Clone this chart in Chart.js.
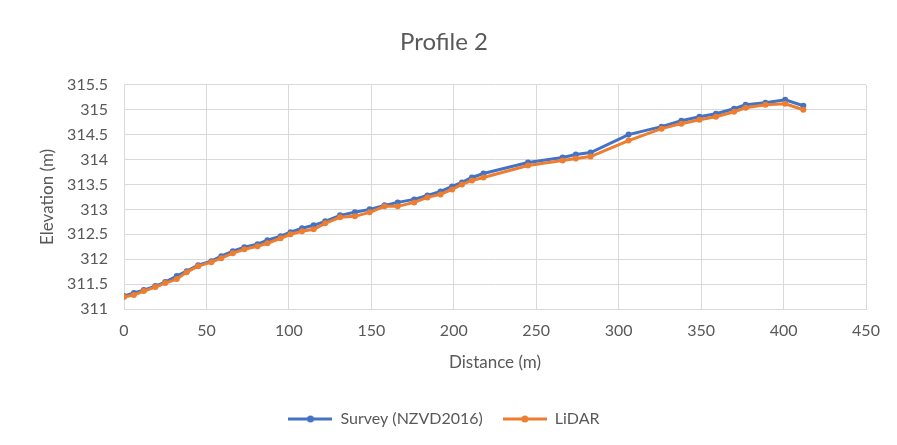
<!DOCTYPE html>
<html lang="en">
<head>
  <meta charset="UTF-8">
  <title>Profile 2</title>
  <script src="https://cdn.jsdelivr.net/npm/chart.js@4.4.0/dist/chart.umd.min.js"></script>
  <style>
    body { margin: 0; background: #fff; }
    .chart-container { position: relative; width: 897px; height: 445px; }
  </style>
</head>
<body>
  <div class="chart-container">
    <canvas id="chart"></canvas>
  </div>

<script>
  // distance along the profile (m)
  const distance = [0, 6, 12, 19, 25, 32, 38, 45, 53, 59, 66, 73, 81, 87, 95, 101, 108, 115, 122, 131,
    140, 149, 158, 166, 176, 184, 192, 199, 205, 211, 218, 245, 266, 274, 283, 306, 326, 338, 349, 359,
    370, 377, 389, 401, 412];
  // elevations (m)
  const survey = [311.26, 311.32, 311.38, 311.46, 311.54, 311.66, 311.76, 311.88, 311.96, 312.06,
    312.16, 312.24, 312.30, 312.38, 312.46, 312.54, 312.62, 312.68, 312.76, 312.88,
    312.94, 313.00, 313.08, 313.14, 313.20, 313.28, 313.36, 313.46, 313.54, 313.64,
    313.72, 313.94, 314.04, 314.10, 314.14, 314.50, 314.66, 314.78, 314.86, 314.92,
    315.02, 315.10, 315.14, 315.20, 315.08];
  const lidar = [311.24, 311.28, 311.36, 311.44, 311.52, 311.60, 311.74, 311.86, 311.94, 312.02,
    312.12, 312.20, 312.26, 312.32, 312.42, 312.50, 312.56, 312.60, 312.72, 312.84,
    312.86, 312.94, 313.06, 313.06, 313.14, 313.24, 313.30, 313.40, 313.50, 313.58,
    313.64, 313.88, 313.98, 314.02, 314.06, 314.38, 314.62, 314.72, 314.80, 314.86,
    314.96, 315.04, 315.10, 315.12, 315.00];

  const seriesNames = ['Survey (NZVD2016)', 'LiDAR'];
  const seriesColors = ['#4472C4', '#ED7D31'];

  const font = 'Lato, "Open Sans", sans-serif';
  const textColor = '#595959';
  const gridColor = '#d9d9d9';

  function points(values) {
    return values.map((v, i) => ({ x: distance[i], y: v }));
  }

  // little line-with-dot swatch for the legend
  function legendSwatch(color) {
    const c = document.createElement('canvas');
    c.width = 44; c.height = 10;
    const g = c.getContext('2d');
    g.strokeStyle = color;
    g.lineWidth = 3;
    g.beginPath(); g.moveTo(0, 5); g.lineTo(44, 5); g.stroke();
    g.fillStyle = color;
    g.beginPath(); g.arc(22, 5, 3.5, 0, Math.PI * 2); g.fill();
    return c;
  }
  const swatches = seriesColors.map(legendSwatch);

  const ctx = document.getElementById('chart').getContext('2d');
  const myChart = new Chart(ctx, {
    type: 'scatter',
    data: {
      datasets: [
        {
          label: seriesNames[0],
          data: points(survey),
          showLine: true,
          borderColor: seriesColors[0],
          backgroundColor: seriesColors[0],
          borderWidth: 3,
          pointRadius: 3,
          pointBorderWidth: 0,
          order: 1
        },
        {
          label: seriesNames[1],
          data: points(lidar),
          showLine: true,
          borderColor: seriesColors[1],
          backgroundColor: seriesColors[1],
          borderWidth: 3,
          pointRadius: 3,
          pointBorderWidth: 0,
          order: 0
        }
      ]
    },
    options: {
      responsive: true,
      maintainAspectRatio: false,
      animation: false,
      layout: { padding: { left: 22, right: 31, top: 0, bottom: 8 } },
      plugins: {
        tooltip: { enabled: false },
        title: {
          display: true,
          text: 'Profile 2',
          color: textColor,
          font: { family: font, size: 24, weight: 'normal' },
          padding: { top: 28, bottom: 28 }
        },
        legend: {
          position: 'bottom',
          labels: {
            color: textColor,
            font: { family: font, size: 16 },
            usePointStyle: true,
            pointStyleWidth: 44,
            padding: 20,
            generateLabels: chart => seriesNames.map((name, i) => ({
              text: name,
              fontColor: textColor,
              pointStyle: swatches[i],
              datasetIndex: i,
              lineWidth: 0,
              strokeStyle: 'transparent',
              fillStyle: seriesColors[i]
            }))
          }
        }
      },
      scales: {
        x: {
          type: 'linear',
          min: 0,
          max: 450,
          ticks: { stepSize: 50, color: textColor, font: { family: font, size: 16 }, padding: 12, maxRotation: 0 },
          grid: { color: gridColor, drawTicks: false },
          border: { color: gridColor },
          title: {
            display: true,
            text: 'Distance (m)',
            color: textColor,
            font: { family: font, size: 17 },
            padding: { top: 4, bottom: 18 }
          },
          afterFit: scale => { scale.height = 82; }
        },
        y: {
          min: 311,
          max: 315.5,
          ticks: {
            stepSize: 0.5,
            color: textColor,
            font: { family: font, size: 16 },
            padding: 16,
            callback: value => String(value)
          },
          grid: { color: gridColor, drawTicks: false },
          border: { color: gridColor },
          title: {
            display: true,
            text: 'Elevation (m)',
            color: textColor,
            font: { family: font, size: 17 },
            padding: { top: 15, bottom: 0 }
          },
          afterFit: scale => { scale.width = 102; }
        }
      }
    }
  });
</script>

</body>
</html>
